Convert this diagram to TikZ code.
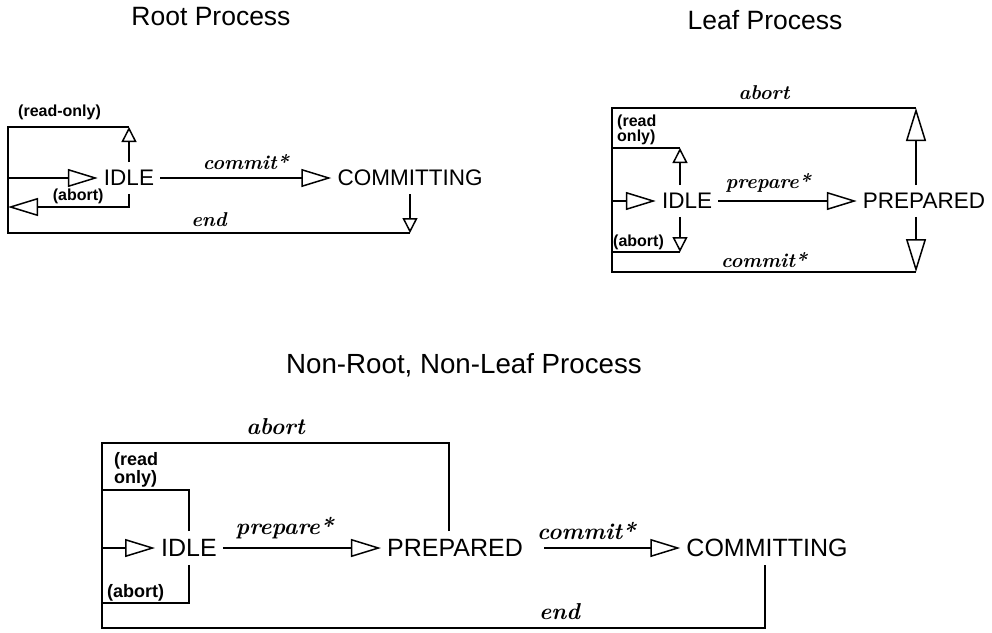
\documentclass[tikz,border=0pt]{standalone}
\usepackage{fontspec}
\usepackage{tikz}
\usetikzlibrary{arrows.meta, positioning}
\newfontfamily\plotfont{Liberation Sans}
\newfontfamily\msgfont{lmroman10-bolditalic}[Extension=.otf]

\begin{document}
\begin{tikzpicture}[
    x=1pt, y=-1pt,
    state/.style={inner xsep=6pt, inner ysep=8pt, font=\plotfont\fontsize{22.5}{24}\selectfont},
    bigstate/.style={state, font=\plotfont\fontsize{25}{27}\selectfont},
    title/.style={inner sep=0pt, font=\plotfont\fontsize{26.5}{28}\selectfont},
    msg/.style={inner sep=0pt, font=\msgfont\fontsize{20}{22}\selectfont},
    bigmsg/.style={msg, font=\msgfont\fontsize{23}{25}\selectfont},
    note/.style={inner sep=1pt, align=left, font=\plotfont\fontsize{16}{15}\selectfont\bfseries},
    bignote/.style={note, font=\plotfont\fontsize{18}{18}\selectfont\bfseries},
    wire/.style={line width=1.5pt},
    flow/.style={wire, -{Triangle[open, length=30pt, width=18pt]}},
    stub/.style={wire, -{Triangle[open, length=15pt, width=15pt]}},
    tall/.style={wire, -{Triangle[open, length=33pt, width=20pt]}}
]
    \useasboundingbox (0,0) rectangle (992,632);

    % root process
    \node[title] (rootT) at (211,17) {Root Process};
    \node[state] (rIdle) at (129,178) {IDLE};
    \node[state] (rCom) at (410,178) {COMMITTING};
    \coordinate (rTL) at (8,127);
    \coordinate (rBL) at (8,233);
    \coordinate (rAb) at (8,207);

    \draw[flow] (rTL |- rIdle) -- (rIdle.west);
    \draw[flow] (rIdle.east) -- node[msg, above=8pt]{commit*} (rCom.west);
    \draw[stub] (rIdle.north) -- (rIdle.north |- rTL);
    \draw[flow] (rIdle.south) |- node[note, pos=0.71, above=1pt]{(abort)} (rAb);
    \draw[stub] (rCom.south) -- (rCom.south |- rBL);
    \draw[wire] (rIdle.north |- rTL) -- (rTL) -- (rBL)
        -- node[msg, above=6pt]{end} (rCom.south |- rBL);
    \node[note, above right=6pt and 9pt of rTL] (rRo) {(read-only)};

    % leaf process
    \node[title] (leafT) at (765,20) {Leaf Process};
    \node[state] (lIdle) at (687,201) {IDLE};
    \node[state] (lPrep) at (924,201) {PREPARED};
    \coordinate (lTL) at (612,108);
    \coordinate (lBL) at (612,272);
    \coordinate (lRo) at (612,148);
    \coordinate (lAb) at (612,252);
    \coordinate (lIu) at ([xshift=-7pt]lIdle.north);
    \coordinate (lIs) at ([xshift=-7pt]lIdle.south);
    \coordinate (lPu) at ([xshift=-8pt]lPrep.north);
    \coordinate (lPs) at ([xshift=-8pt]lPrep.south);

    \draw[flow] (lTL |- lIdle) -- (lIdle.west);
    \draw[flow] (lIdle.east) -- node[msg, pos=0.36, above=8pt]{prepare*} (lPrep.west);
    \draw[stub] (lIu) -- (lIu |- lRo);
    \draw[wire] (lIu |- lRo) -- (lRo);
    \draw[stub] (lIs) -- (lIs |- lAb);
    \draw[wire] (lIs |- lAb) -- (lAb);
    \draw[tall] (lPu) -- (lPu |- lTL);
    \draw[tall] (lPs) -- (lPs |- lBL);
    \draw[wire] (lPu |- lTL) -- node[msg, above=8pt]{abort} (lTL) -- (lBL)
        -- node[msg, above=4pt]{commit*} (lPs |- lBL);
    \node[note, above right=2pt and 4pt of lRo] (lRoT) {(read\\only)};
    \node[note, above right=1pt and 0pt of lAb] (lAbT) {(abort)};

    % non-root, non-leaf process
    \node[title, font=\plotfont\fontsize{27.7}{29}\selectfont] (midT) at (464,365) {Non-Root, Non-Leaf Process};
    \node[bigstate] (bIdle) at (189,548) {IDLE};
    \node[bigstate] (bPrep) at (455,548) {PREPARED};
    \node[bigstate] (bCom) at (767,548) {COMMITTING};
    \coordinate (bTL) at (102,443);
    \coordinate (bBL) at (102,628);
    \coordinate (bRo) at (102,490);
    \coordinate (bAb) at (102,603);
    \coordinate (bPu) at ([xshift=-6pt]bPrep.north);
    \coordinate (bCs) at ([xshift=-2pt]bCom.south);

    \draw[flow] (bTL |- bIdle) -- (bIdle.west);
    \draw[flow] (bIdle.east) -- node[bigmsg, pos=0.39, above=8pt]{prepare*} (bPrep.west);
    \draw[flow, shorten <=15pt] (bPrep.east) -- node[bigmsg, pos=0.38, above=8pt]{commit*} (bCom.west);
    \draw[wire] (bIdle.north) |- (bRo);
    \draw[wire] (bIdle.south) |- (bAb);
    \draw[wire] (bPu) -- (bPu |- bTL) -- node[bigmsg, above=8pt]{abort} (bTL) -- (bBL)
        -- node[bigmsg, pos=0.69, above=8pt]{end} (bCs |- bBL) -- (bCs);
    \node[bignote, above right=2pt and 11pt of bRo] (bRoT) {(read\\only)};
    \node[bignote, above right=1pt and 4pt of bAb] (bAbT) {(abort)};
\end{tikzpicture}
\end{document}
